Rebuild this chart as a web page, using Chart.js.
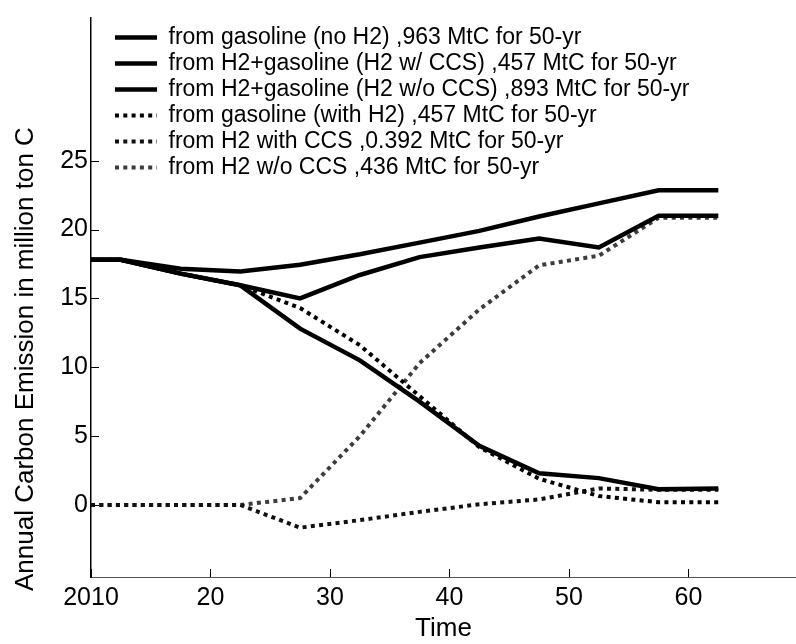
<!DOCTYPE html>
<html>
<head>
<meta charset="utf-8">
<script src="https://cdn.jsdelivr.net/npm/chart.js@4.4.1/dist/chart.umd.min.js"></script>
<style>
  html, body { margin: 0; padding: 0; background: #fff; }
</style>
</head>
<body>
<canvas id="myChart" width="796" height="644"></canvas>
<script>
// Time axis (2010 shown as the first tick)
const years = [10, 12.5, 17.5, 22.5, 27.5, 32.5, 37.5, 42.5, 47.5, 52.5, 57.5, 62.5];

// Annual carbon emission, million ton C
const gasolineNoH2 = [17.8, 17.8, 17.15, 16.95, 17.45, 18.2, 19.05, 19.9, 20.95, 21.9, 22.85, 22.85];
const mixWithCCS = [17.8, 17.8, 16.8, 15.95, 12.8, 10.5, 7.5, 4.3, 2.3, 1.95, 1.15, 1.2];
const mixNoCCS = [17.8, 17.8, 16.8, 15.95, 15.0, 16.7, 18.0, 18.7, 19.35, 18.7, 21.0, 21.0];
const gasolineWithH2 = [17.8, 17.8, 16.8, 15.95, 14.3, 11.6, 7.9, 4.2, 1.9, 0.65, 0.2, 0.2];
const h2WithCCS = [0, 0, 0, 0, -1.65, -1.1, -0.5, 0.05, 0.4, 1.2, 1.1, 1.1];
const h2NoCCS = [0, 0, 0, 0, 0.5, 5.0, 10.3, 14.2, 17.4, 18.1, 20.85, 20.85];

const seriesLabels = [
  "from gasoline (no H2) ,963 MtC for 50-yr",
  "from H2+gasoline (H2 w/ CCS) ,457 MtC for 50-yr",
  "from H2+gasoline (H2 w/o CCS) ,893 MtC for 50-yr",
  "from gasoline (with H2) ,457 MtC for 50-yr",
  "from H2 with CCS ,0.392 MtC for 50-yr",
  "from H2 w/o CCS ,436 MtC for 50-yr",
];

const xTicks = [10, 20, 30, 40, 50, 60];
const yTicks = [0, 5, 10, 15, 20, 25];

const xTitle = "Time";
const yTitle = "Annual Carbon Emission in million ton C";

const FONT = "'Liberation Sans', Arial, Helvetica, sans-serif";

const toPoints = (vals) => years.map((t, i) => ({ x: t, y: vals[i] }));

const solid = (label, vals) => ({
  label,
  data: toPoints(vals),
  borderColor: "#000",
  borderWidth: 4.5,
  pointRadius: 0,
  tension: 0,
  fill: false,
});

const dotted = (label, vals, color) => ({
  label,
  data: toPoints(vals),
  borderColor: color,
  borderWidth: 4,
  borderDash: [4, 4.3],
  pointRadius: 0,
  tension: 0,
  fill: false,
});

// tick marks pointing into the plot
const inwardTicks = {
  id: "inwardTicks",
  afterDatasetsDraw(chart) {
    const { ctx, chartArea, scales } = chart;
    ctx.save();
    ctx.strokeStyle = "#000";
    ctx.lineWidth = 1;
    ctx.beginPath();
    scales.x.ticks.forEach((t) => {
      const px = Math.round(scales.x.getPixelForValue(t.value)) + 0.5;
      ctx.moveTo(px, chartArea.bottom);
      ctx.lineTo(px, chartArea.bottom - 8);
    });
    scales.y.ticks.forEach((t) => {
      const py = Math.round(scales.y.getPixelForValue(t.value)) + 0.5;
      ctx.moveTo(chartArea.left, py);
      ctx.lineTo(chartArea.left + 8, py);
    });
    ctx.stroke();
    ctx.restore();
  },
};

// y title starts a bit below the axis, reading upwards
const yAxisTitle = {
  id: "yAxisTitle",
  afterDraw(chart) {
    const { ctx, chartArea } = chart;
    ctx.save();
    ctx.translate(26, chartArea.bottom + 14);
    ctx.rotate(-Math.PI / 2);
    ctx.font = "26px " + FONT;
    ctx.fillStyle = "#000";
    ctx.textAlign = "left";
    ctx.textBaseline = "middle";
    ctx.fillText(yTitle, 0, 0);
    ctx.restore();
  },
};

// push the legend a little in from the top-left corner of the plot
const legendOffset = {
  id: "legendOffset",
  afterLayout(chart) {
    const lg = chart.legend;
    const area = chart.chartArea;
    lg.left = area.left + 21;
    lg.top = area.top + 5;
    lg.right = area.right;
    lg.bottom = area.bottom;
  },
};

const ctx = document.getElementById("myChart").getContext("2d");

const config = {
  type: "line",
  data: {
    datasets: [
      solid(seriesLabels[0], gasolineNoH2),
      solid(seriesLabels[1], mixWithCCS),
      solid(seriesLabels[2], mixNoCCS),
      dotted(seriesLabels[3], gasolineWithH2, "#000"),
      dotted(seriesLabels[4], h2WithCCS, "#111"),
      dotted(seriesLabels[5], h2NoCCS, "#3c3c3c"),
    ],
  },
  options: {
    responsive: false,
    devicePixelRatio: 1,
    animation: false,
    layout: { padding: { top: 3, right: 0, bottom: 0, left: 0 } },
    plugins: {
      tooltip: { enabled: false },
      legend: {
        position: "chartArea",
        align: "start",
        labels: {
          usePointStyle: true,
          pointStyle: "line",
          pointStyleWidth: 42,
          padding: 3,
          color: "#000",
          font: { family: FONT, size: 23 },
          // point-style labels lose the dataset dash, so copy it back
          generateLabels: (chart) =>
            Chart.defaults.plugins.legend.labels.generateLabels(chart).map((item) => {
              const ds = chart.data.datasets[item.datasetIndex];
              item.lineDash = ds.borderDash || [];
              item.strokeStyle = ds.borderColor;
              item.lineWidth = ds.borderWidth;
              return item;
            }),
        },
      },
    },
    scales: {
      x: {
        type: "linear",
        min: 10,
        max: 69,
        afterBuildTicks: (s) => {
          s.ticks = xTicks.map((v) => ({ value: v }));
        },
        afterFit: (s) => {
          s.height = 67;
        },
        ticks: {
          autoSkip: false,
          maxRotation: 0,
          padding: 6,
          color: "#000",
          font: { family: FONT, size: 25 },
          callback: (value) => (value === 10 ? "2010" : "" + value),
        },
        grid: { display: true, drawOnChartArea: false, drawTicks: false },
        border: { display: true, color: "#555", width: 1 },
        title: {
          display: true,
          text: xTitle,
          color: "#000",
          font: { family: FONT, size: 26 },
          padding: { top: 0, bottom: 0 },
        },
      },
      y: {
        min: -5.23,
        max: 35.36,
        afterBuildTicks: (s) => {
          s.ticks = yTicks.map((v) => ({ value: v }));
        },
        afterFit: (s) => {
          s.width = 91;
        },
        ticks: {
          padding: 3,
          color: "#000",
          font: { family: FONT, size: 25 },
        },
        grid: { display: true, drawOnChartArea: false, drawTicks: false },
        border: { display: true, color: "#000", width: 1.5 },
      },
    },
  },
  plugins: [inwardTicks, yAxisTitle, legendOffset],
};

const myChart = new Chart(ctx, config);
</script>
</body>
</html>
